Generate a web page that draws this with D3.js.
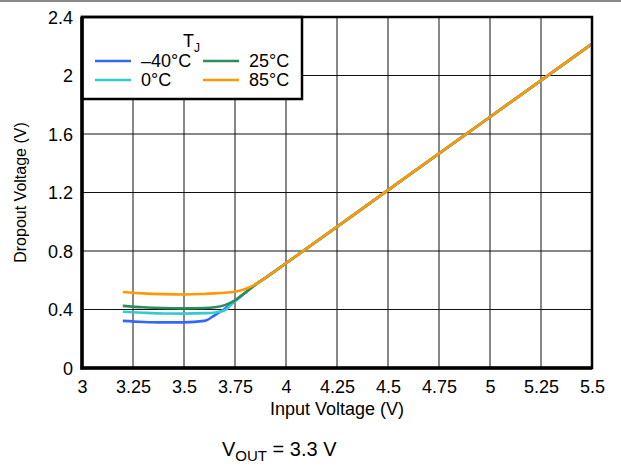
<!DOCTYPE html>
<html>
<head>
<meta charset="utf-8">
<script src="https://cdn.jsdelivr.net/npm/d3@7"></script>
<style>
  body { margin: 0; background: #fff; }
  svg text { font-family: "Liberation Sans", Arial, Helvetica, sans-serif; fill: #000; }
</style>
</head>
<body>
<div id="chart"></div>
<script>
// input voltage samples (V)
const vin = [3.2, 3.3, 3.4, 3.5, 3.6, 3.65, 3.7, 3.75, 3.8, 3.85, 3.9, 4, 4.5, 5, 5.5];

// dropout voltage per junction temperature (V)
const dropM40 = [0.322, 0.315, 0.312, 0.312, 0.322, 0.36, 0.405, 0.458, 0.515, 0.57, 0.617, 0.716, 1.216, 1.716, 2.216];
const drop0   = [0.385, 0.378, 0.373, 0.372, 0.375, 0.38, 0.395, 0.46, 0.515, 0.57, 0.617, 0.716, 1.216, 1.716, 2.216];
const drop25  = [0.425, 0.415, 0.41, 0.408, 0.41, 0.415, 0.43, 0.462, 0.515, 0.57, 0.617, 0.716, 1.216, 1.716, 2.216];
const drop85  = [0.52, 0.51, 0.505, 0.503, 0.506, 0.51, 0.515, 0.522, 0.54, 0.572, 0.617, 0.716, 1.216, 1.716, 2.216];

const seriesNames = ["\u201340\u00b0C", "0\u00b0C", "25\u00b0C", "85\u00b0C"];
const seriesColors = ["#3366ff", "#33cccc", "#2e8b5a", "#ff9900"];

const xTicks = [3, 3.25, 3.5, 3.75, 4, 4.25, 4.5, 4.75, 5, 5.25, 5.5];
const yTicks = [0, 0.4, 0.8, 1.2, 1.6, 2, 2.4];

const W = 621, H = 466;
const margin = {top: 17, right: 29, bottom: 98, left: 82};
const width = W - margin.left - margin.right;
const height = H - margin.top - margin.bottom;

const svg = d3.select("#chart").append("svg")
    .attr("width", W)
    .attr("height", H);

// thin gray rule along the top of the page
svg.append("line")
    .attr("x1", 0).attr("x2", W)
    .attr("y1", 1).attr("y2", 1)
    .attr("stroke", "#8a8a8a")
    .attr("stroke-width", 2);

const g = svg.append("g")
    .attr("transform", `translate(${margin.left},${margin.top})`);

const x = d3.scaleLinear().domain([3, 5.5]).range([0, width]);
const y = d3.scaleLinear().domain([0, 2.4]).range([height, 0]);

// grid
g.append("g")
    .selectAll("line.vgrid")
    .data(xTicks)
    .enter().append("line")
    .attr("class", "vgrid")
    .attr("x1", d => x(d)).attr("x2", d => x(d))
    .attr("y1", 0).attr("y2", height)
    .attr("stroke", "#111")
    .attr("stroke-width", 1);

g.append("g")
    .selectAll("line.hgrid")
    .data(yTicks)
    .enter().append("line")
    .attr("class", "hgrid")
    .attr("x1", 0).attr("x2", width)
    .attr("y1", d => y(d)).attr("y2", d => y(d))
    .attr("stroke", "#111")
    .attr("stroke-width", 1);

// curves
const series = [dropM40, drop0, drop25, drop85].map((vals, i) => ({
    name: seriesNames[i],
    color: seriesColors[i],
    values: vin.map((v, j) => ({vin: v, drop: vals[j]}))
}));

const line = d3.line()
    .x(d => x(d.vin))
    .y(d => y(d.drop))
    .curve(d3.curveMonotoneX);

g.selectAll("path.curve")
    .data(series)
    .enter().append("path")
    .attr("class", "curve")
    .attr("d", d => line(d.values))
    .attr("fill", "none")
    .attr("stroke", d => d.color)
    .attr("stroke-width", 2.6)
    .attr("stroke-linejoin", "round");

// axes (labels only, no tick marks)
const xAxis = d3.axisBottom(x).tickValues(xTicks).tickSize(0).tickPadding(12)
    .tickFormat(d3.format("~g"));
const yAxis = d3.axisLeft(y).tickValues(yTicks).tickSize(0).tickPadding(9)
    .tickFormat(d3.format("~g"));

g.append("g")
    .attr("class", "x-axis axis")
    .attr("transform", `translate(0,${height})`)
    .call(xAxis)
    .call(s => s.select(".domain").remove())
    .selectAll("text")
    .style("font-size", "18px");

g.append("g")
    .attr("class", "y-axis axis")
    .call(yAxis)
    .call(s => s.select(".domain").remove())
    .selectAll("text")
    .attr("dy", "0.36em")
    .style("font-size", "18px");

// legend
const lg = g.append("g").attr("class", "legend");
lg.append("rect")
    .attr("x", 0).attr("y", 0)
    .attr("width", 220).attr("height", 82)
    .attr("fill", "#fff")
    .attr("stroke", "#000")
    .attr("stroke-width", 2.5);

const tj = lg.append("text")
    .attr("x", 101).attr("y", 30)
    .style("font-size", "18px");
tj.append("tspan").text("T");
tj.append("tspan").attr("dy", 5).style("font-size", "12px").text("J");

const legendPos = [
    {lx: 13, ly: 44},
    {lx: 13, ly: 63},
    {lx: 121, ly: 44},
    {lx: 121, ly: 63}
];

series.forEach((s, i) => {
    const p = legendPos[i];
    lg.append("line")
        .attr("x1", p.lx).attr("x2", p.lx + 36)
        .attr("y1", p.ly).attr("y2", p.ly)
        .attr("stroke", s.color)
        .attr("stroke-width", 2.6);
    lg.append("text")
        .attr("x", p.lx + 46).attr("y", p.ly)
        .attr("dy", "0.36em")
        .style("font-size", "18px")
        .text(s.name);
});

// frame
g.append("rect")
    .attr("x", 0).attr("y", 0)
    .attr("width", width).attr("height", height)
    .attr("fill", "none")
    .attr("stroke", "#000")
    .attr("stroke-width", 2.5);
g.append("line")
    .attr("x1", 0).attr("x2", 0).attr("y1", 0).attr("y2", height + 1.5)
    .attr("stroke", "#000").attr("stroke-width", 3.5);
g.append("line")
    .attr("x1", -1.5).attr("x2", width).attr("y1", height).attr("y2", height)
    .attr("stroke", "#000").attr("stroke-width", 3.5);

// axis titles
g.append("text")
    .attr("x", width / 2).attr("y", height + 47)
    .attr("text-anchor", "middle")
    .style("font-size", "18px")
    .text("Input Voltage (V)");

g.append("text")
    .attr("transform", `translate(${-56},${height / 2}) rotate(-90)`)
    .attr("text-anchor", "middle")
    .style("font-size", "16px")
    .text("Dropout Voltage (V)");

// operating condition note
const note = svg.append("text")
    .attr("x", 222).attr("y", 456)
    .style("font-size", "20px");
note.append("tspan").text("V");
note.append("tspan").attr("dy", 5).style("font-size", "15px").text("OUT");
note.append("tspan").attr("dy", -5).text(" = 3.3 V");
</script>
</body>
</html>
